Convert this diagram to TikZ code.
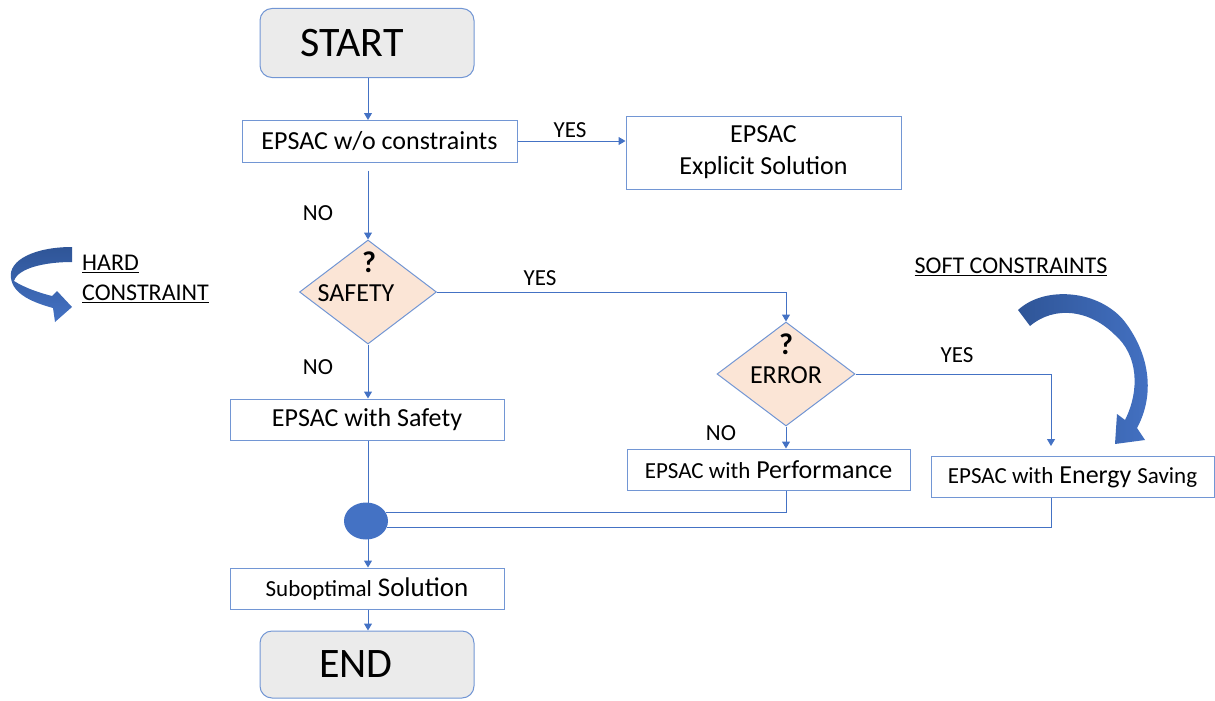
\documentclass[tikz,border=0pt]{standalone}
\usepackage{fontspec}
\setmainfont{Carlito}
\usetikzlibrary{arrows.meta,shapes.geometric}
\definecolor{edge}{RGB}{114,150,212}
\definecolor{flow}{RGB}{68,114,196}
\definecolor{termfill}{RGB}{235,235,235}
\definecolor{decfill}{RGB}{251,229,214}
\definecolor{deepblue}{RGB}{47,85,151}
\newcommand{\fs}[1]{\fontsize{#1}{#1}\selectfont}
\begin{document}
\begin{tikzpicture}[x=1pt,y=-1pt,
  terminal/.style={draw=edge, fill=termfill, rounded corners=12pt, line width=1pt,
    minimum width=214pt, minimum height=69pt, inner sep=0pt},
  procbox/.style={draw=edge, fill=white, line width=1pt, inner sep=0pt, align=center,
    font=\fs{26}},
  decision/.style={diamond, draw=edge, fill=decfill, line width=1pt, inner sep=0pt,
    minimum width=137pt, minimum height=104pt},
  flowline/.style={draw=flow, line width=1pt},
  flowarrow/.style={flowline, -{Triangle[width=8pt,length=7pt]}},
  answer/.style={font=\fs{23}, inner sep=0pt}
]
\useasboundingbox (0,0) rectangle (1215,701);

% --- terminals and process boxes ---
\node[terminal, label={[xshift=-15pt,font=\fs{42}]center:START}] (start) at (367,43) {};
\node[procbox, minimum width=275pt, minimum height=42pt] (wo) at (379.5,141) {EPSAC w/o constraints};
\node[procbox, minimum width=275pt, minimum height=73pt] (explicit) at (763.5,152.5)
  {EPSAC\\[6pt]Explicit Solution};
\node[decision] (safety) at (368,292) {};
\node[font=\bfseries\fs{30}] (q1) at (369,262) {?};
\node[font=\fs{26}] (safetytxt) at (356,293) {SAFETY};
\node[procbox, minimum width=274pt, minimum height=41pt] (safebox) at (367,419.5) {EPSAC with Safety};
\node[decision, minimum width=138pt] (error) at (786,374) {};
\node[font=\bfseries\fs{30}] (q2) at (786,344) {?};
\node[font=\fs{26}] (errortxt) at (786,375) {ERROR};
\node[procbox, minimum width=283pt, minimum height=41pt] (perf) at (768.5,469.5)
  {{\fs{23}EPSAC with} Performance};
\node[procbox, minimum width=283pt, minimum height=41pt] (energy) at (1072.5,477)
  {{\fs{23}EPSAC with} Energy {\fs{23}Saving}};
\node[ellipse, fill=flow, minimum width=44pt, minimum height=37pt, inner sep=0pt] (merge) at (366,521) {};
\node[procbox, minimum width=274pt, minimum height=41pt] (sub) at (367,588.5)
  {{\fs{23}Suboptimal} {\fs{27}Solution}};
\node[terminal, minimum height=67pt, label={[xshift=-11pt,font=\fs{42}]center:END}] (end) at (367,664.5) {};

% --- connectors ---
\draw[flowarrow] (start.south -| 368,0) -- (368,120);
\draw[flowarrow] (wo.east) -- (wo.east -| explicit.west);
\draw[flowarrow, shorten <=8pt] (safety.north |- wo.south) -- (safety.north);
\draw[flowarrow] (safety.east) -| (error.north);
\draw[flowarrow] (safety.south) -- (safety.south |- safebox.north);
\draw[flowarrow, shorten >=10pt] (error.east) -| ([xshift=-21.5pt]energy.north);
\draw[flowarrow] (error.south) -- (error.south |- perf.north);
\draw[flowline] (safebox.south -| 368,0) -- (368,503);
\draw[flowline] (error.south |- perf.south) |- (merge.22);
\draw[flowline] ([xshift=-21.5pt]energy.south) |- (merge.-18);
\draw[flowarrow] (368,539) -- (sub.north -| 368,0);
\draw[flowarrow] (sub.south -| 368,0) -- (end.north -| 368,0);

% --- answer labels ---
\node[answer] (y1) at (570,130) {YES};
\node[answer] (y2) at (540,278) {YES};
\node[answer] (y3) at (957,355) {YES};
\node[answer] (n1) at (318,213) {NO};
\node[answer] (n2) at (318,367) {NO};
\node[answer] (n3) at (721,433) {NO};

% --- constraint annotations ---
\node[anchor=west, font=\fs{24}, inner sep=0pt] (hard1) at (82,264) {\underline{HARD}};
\node[anchor=west, font=\fs{24}, inner sep=0pt] (hard2) at (82,294) {\underline{CONSTRAINT}};
\node[font=\fs{24}, inner sep=0pt] (soft) at (1011,267) {\underline{SOFT CONSTRAINTS}};

% twisted ribbon arrow beside the hard constraint
\shade[top color=deepblue, bottom color=flow]
  (72,247) .. controls (35,247) and (8,260) .. (11,278)
  .. controls (13,295) and (35,303) .. (53,308)
  -- (55,322) -- (72,307) -- (57,291) -- (52,296)
  .. controls (40,293) and (25,288) .. (14,281)
  .. controls (18,268) and (45,262) .. (72,262) -- cycle;

% curved arrow beside the soft constraints
\shade[left color=deepblue, right color=flow]
  (1018,310) .. controls (1045,285) and (1100,290) .. (1125,322)
  .. controls (1150,355) and (1155,395) .. (1137,428)
  -- (1145,440) -- (1115,444) -- (1117,414) -- (1125,420)
  .. controls (1140,390) and (1138,355) .. (1115,335)
  .. controls (1090,310) and (1055,305) .. (1030,326) -- cycle;
\end{tikzpicture}
\end{document}
